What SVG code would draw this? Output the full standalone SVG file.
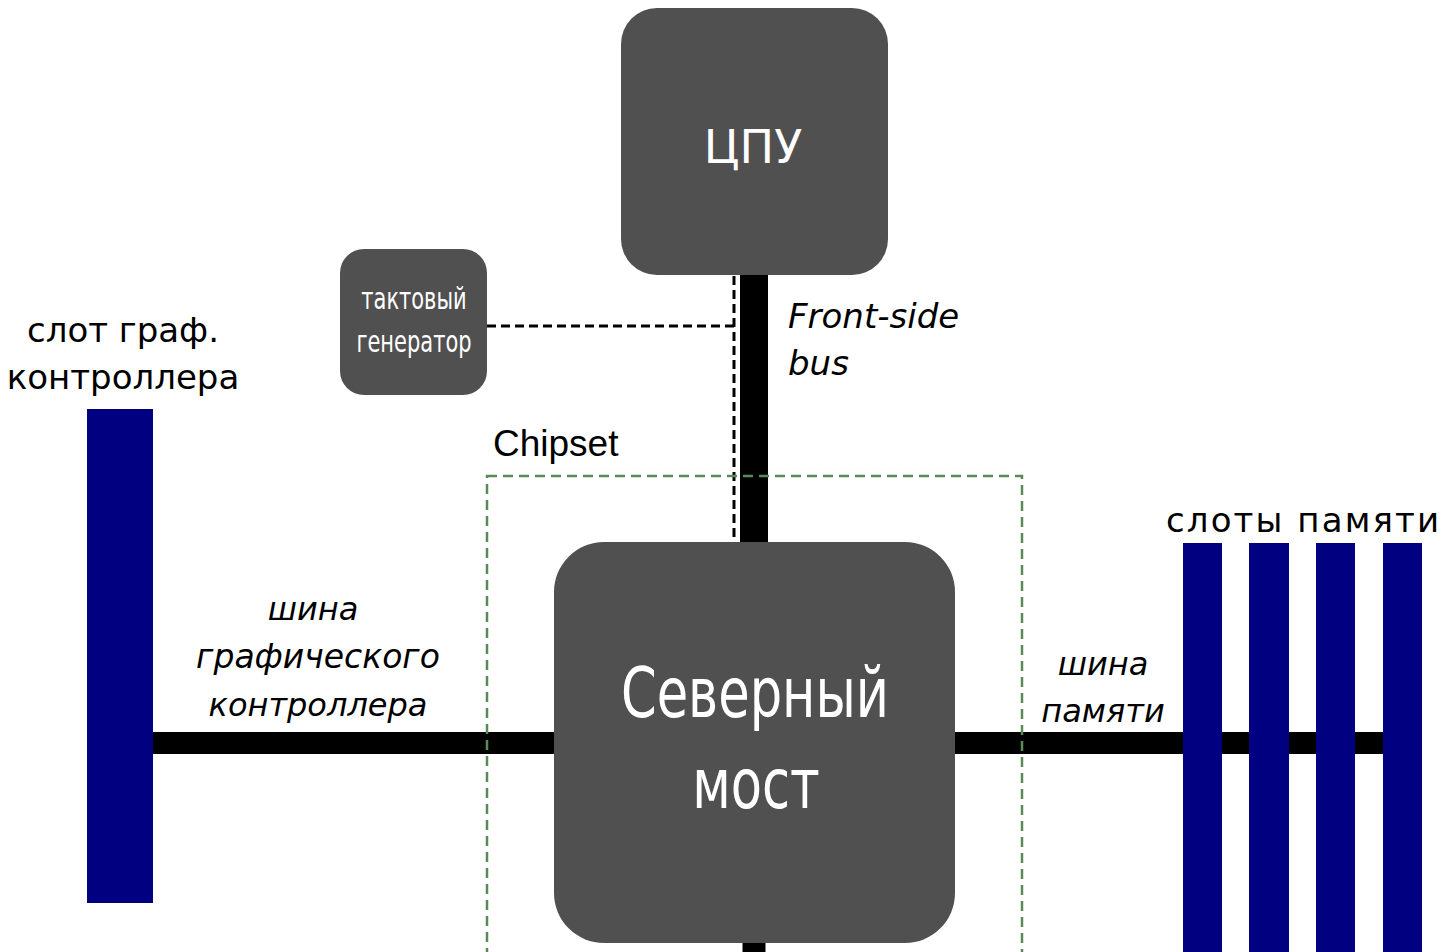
<svg xmlns="http://www.w3.org/2000/svg" width="1441" height="952" viewBox="0 0 1441 952">
<style>
.box{fill:#505050}
.slot{fill:#000080}
.bus{stroke:#000;fill:none}
.dash{stroke:#000;stroke-width:3;stroke-dasharray:9 5;fill:none}
.lbl{font-family:"DejaVu Sans","Liberation Sans",sans-serif;font-size:34px;fill:#000;text-anchor:middle}
.it{font-style:italic;font-size:32px}
.wt{fill:#fff;font-family:"DejaVu Sans","Liberation Sans",sans-serif;text-anchor:middle}
</style>
<rect width="1441" height="952" fill="#fff"/>
<g id="connectors">
<line class="bus" x1="754" y1="270" x2="754" y2="548" stroke-width="28"/>
<line class="bus" x1="754" y1="935" x2="754" y2="952" stroke-width="23"/>
<line class="bus" x1="150" y1="743" x2="560" y2="743" stroke-width="22"/>
<line class="bus" x1="950" y1="743" x2="1400" y2="743" stroke-width="22"/>
<line class="dash" x1="734" y1="276" x2="734" y2="542"/>
<line class="dash" x1="487" y1="326" x2="734" y2="326"/>
</g>
<g id="chipset">
<rect x="487" y="476" width="535" height="490" fill="none" stroke="#5a8a5a" stroke-width="2.5" stroke-dasharray="10 6"/>
<text x="493" y="456" font-family="Liberation Sans, Arial, sans-serif" font-size="37" fill="#000">Chipset</text>
</g>
<g id="cpu">
<rect class="box" x="621" y="8" width="267" height="267" rx="36"/>
<text class="wt" x="753" y="163" font-size="46">ЦПУ</text>
</g>
<g id="clock">
<rect class="box" x="340" y="249" width="147" height="146" rx="24"/>
<text class="wt" transform="translate(414,309) scale(0.70,1)" font-size="30">тактовый</text>
<text class="wt" transform="translate(414,352) scale(0.70,1)" font-size="30">генератор</text>
</g>
<g id="northbridge">
<rect class="box" x="554" y="542" width="401" height="401" rx="50"/>
<text class="wt" transform="translate(755,717) scale(0.73,1)" font-size="70">Северный</text>
<text class="wt" transform="translate(756,808) scale(0.73,1)" font-size="70">мост</text>
</g>
<g id="fsb-label">
<text class="lbl it" x="788" y="328" style="text-anchor:start;font-size:34px">Front-side</text>
<text class="lbl it" x="788" y="375" style="text-anchor:start;font-size:34px">bus</text>
</g>
<g id="gfx-slot">
<rect class="slot" x="87" y="409" width="66" height="494"/>
<text class="lbl" x="123" y="342">слот граф.</text>
<text class="lbl" x="123" y="389">контроллера</text>
</g>
<g id="gfx-bus-label">
<text class="lbl it" x="313" y="620">шина</text>
<text class="lbl it" x="318" y="668" style="font-size:33px">графического</text>
<text class="lbl it" x="318" y="716">контроллера</text>
</g>
<g id="mem-bus-label">
<text class="lbl it" x="1103" y="675">шина</text>
<text class="lbl it" x="1103" y="722">памяти</text>
</g>
<g id="mem-slots">
<rect class="slot" x="1183" y="543" width="39" height="420"/>
<rect class="slot" x="1249" y="543" width="40" height="420"/>
<rect class="slot" x="1316" y="543" width="39" height="420"/>
<rect class="slot" x="1383" y="543" width="39" height="420"/>
<text class="lbl" x="1166" y="532" style="text-anchor:start" textLength="273" lengthAdjust="spacing">слоты памяти</text>
</g>
</svg>
